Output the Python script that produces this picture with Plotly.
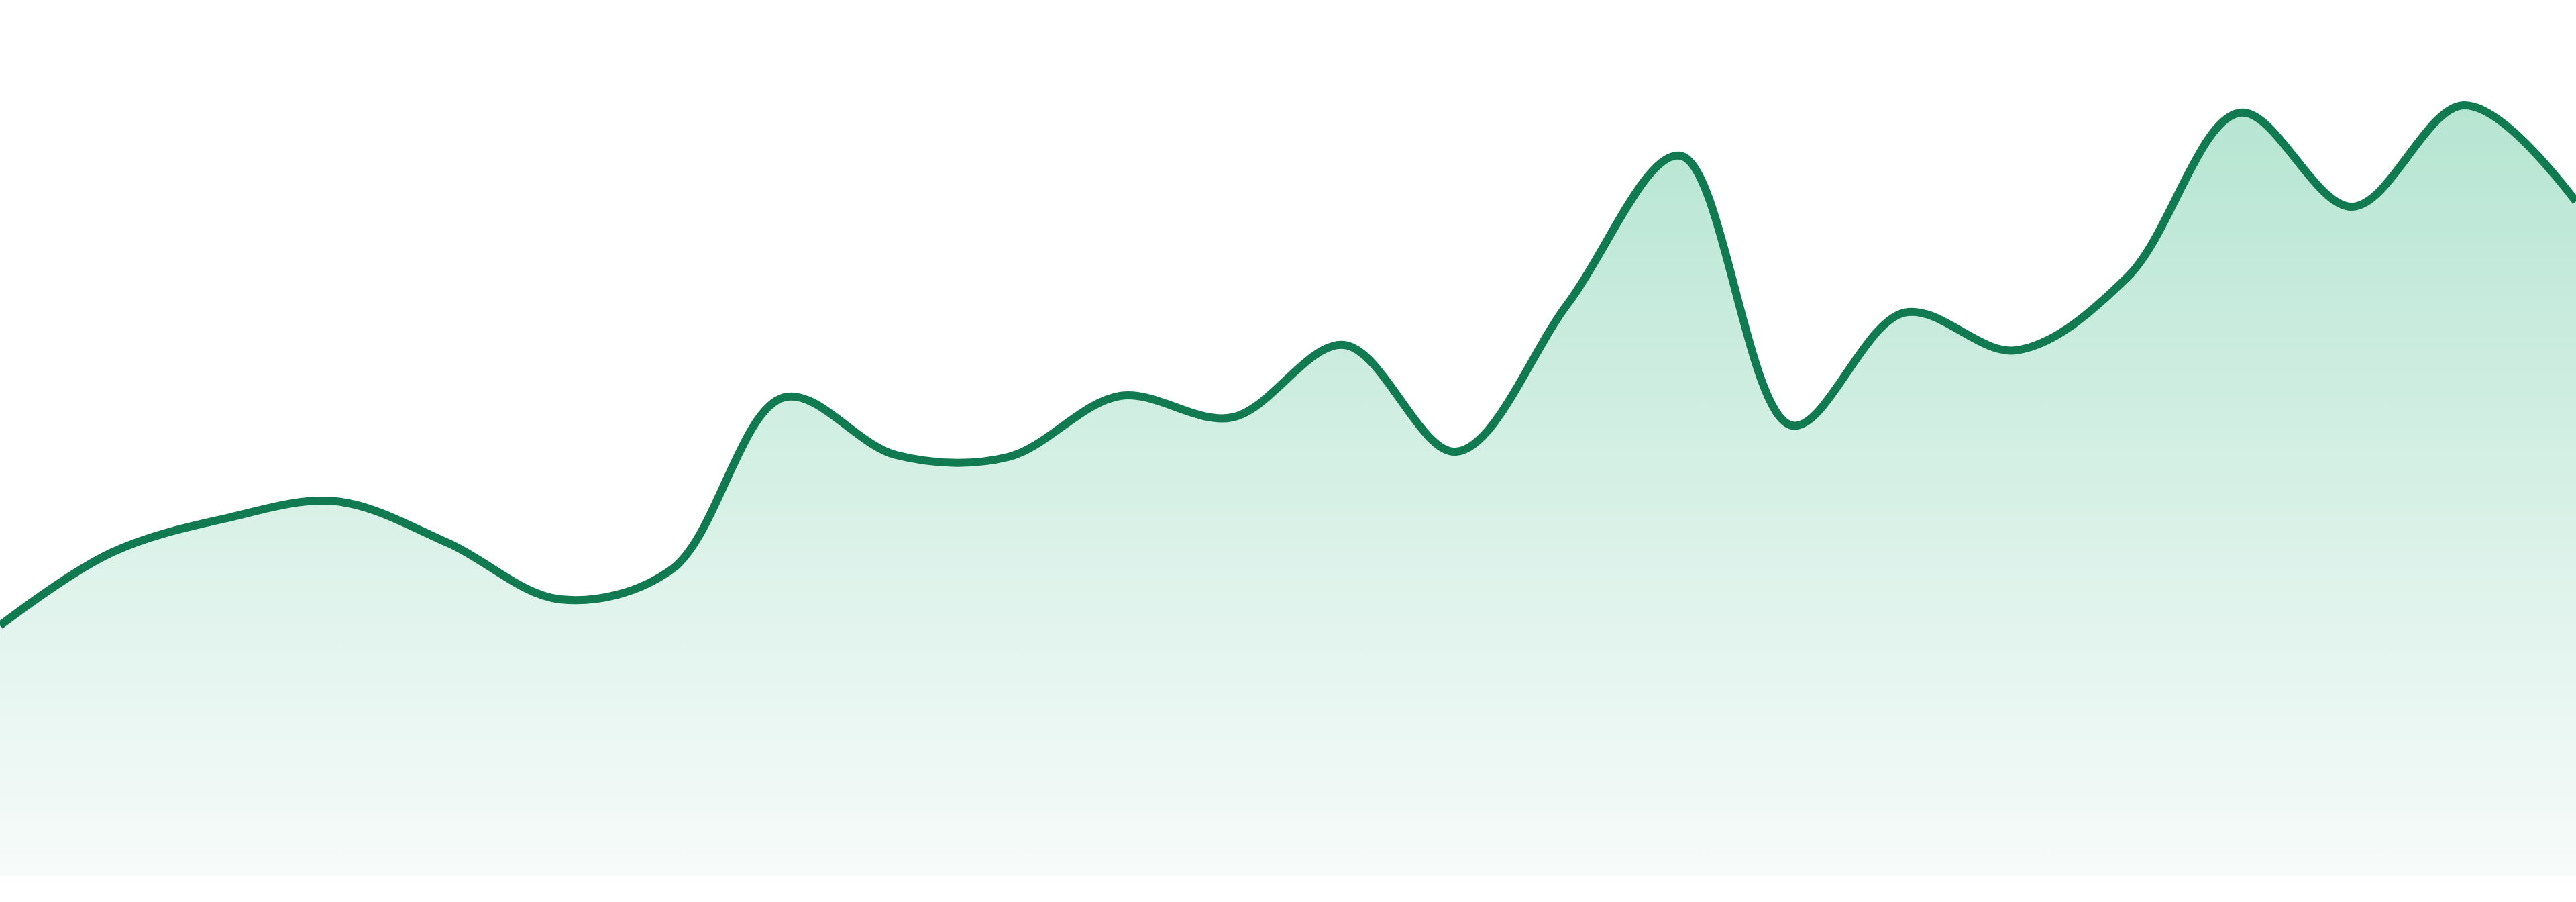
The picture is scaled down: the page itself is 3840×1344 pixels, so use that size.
import plotly.graph_objects as go

# 24 evenly spaced samples
periods = list(range(24))
values = [37.3, 48.2, 53.2, 55.8, 49.6, 41.2, 45.7, 71.3, 62.7, 62.4, 71.5, 68.3,
          79.1, 63.2, 85.3, 107.3, 67.1, 83.9, 78.3, 89.3, 113.7, 99.7, 114.8, 100.5]

line_color = "#117a50"
fill_top = "#b6e5d2"
fill_bottom = "#f7fbfa"


def get_fig():
    fig = go.Figure()
    fig.add_trace(go.Scatter(
        x=periods,
        y=values,
        mode="lines",
        line=dict(color=line_color, width=12, shape="spline", smoothing=1.0),
        fill="tozeroy",
        fillgradient=dict(type="vertical",
                          colorscale=[[0, fill_bottom], [1, fill_top]]),
        hoverinfo="skip",
    ))
    fig.update_layout(
        width=3840,
        height=1344,
        margin=dict(l=0, r=0, t=0, b=39),
        paper_bgcolor="white",
        plot_bgcolor="white",
        showlegend=False,
    )
    fig.update_xaxes(visible=False, range=[0, 23])
    fig.update_yaxes(visible=False, range=[0, 130.5])
    return fig


if __name__ == '__main__':
    fig = get_fig()
    # no page margin, so the chart sits flush with the window
    fig.write_html("out.html", config={"displayModeBar": False},
                   post_script="document.body.style.margin='0';")
